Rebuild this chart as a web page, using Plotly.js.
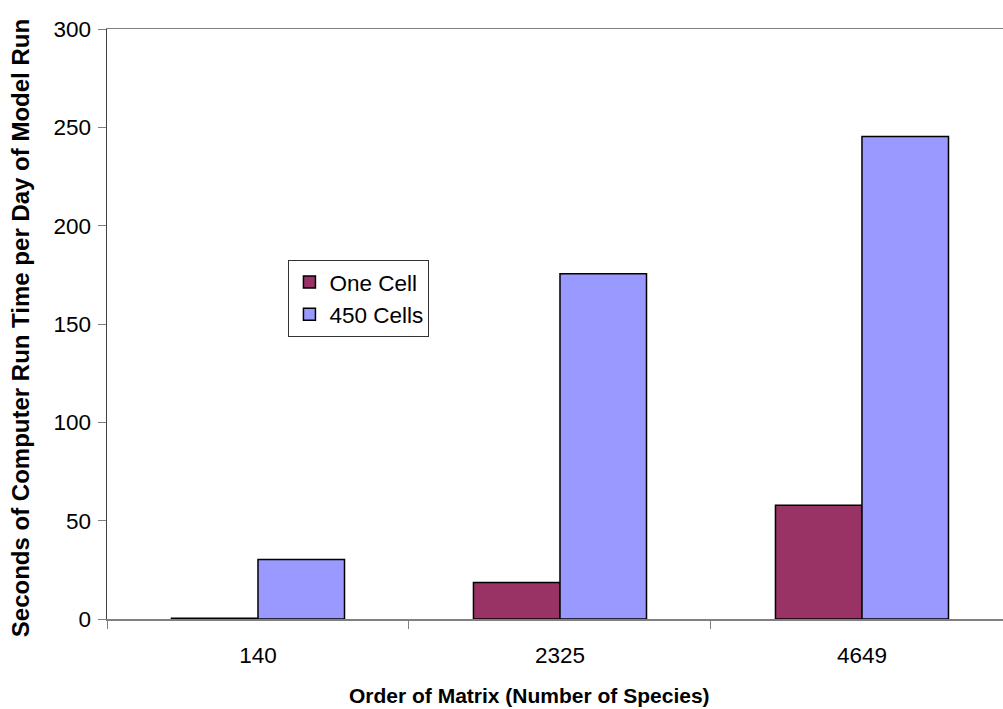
<!DOCTYPE html>
<html>
<head>
<meta charset="utf-8">
<script src="https://cdn.plot.ly/plotly-3.0.1.min.js"></script>
<style>
html,body{margin:0;padding:0;background:#fff;overflow:hidden;}
#chart{width:1003px;height:709px;}
</style>
</head>
<body>
<div id="chart"></div>
<script>
var categories = ["140", "2325", "4649"];
var seriesNames = ["One Cell", "450 Cells"];
var oneCell = [0.4, 18.6, 57.8];
var cells450 = [30.2, 175.6, 245.4];
var yTickVals = [0, 50, 100, 150, 200, 250, 300];
var xTitle = "Order of Matrix (Number of Species)";
var yTitle = "Seconds of Computer Run Time per Day of Model Run";

var font = "Liberation Sans, Arial, sans-serif";

var traces = [
  {type: "bar", name: seriesNames[0], x: categories, y: oneCell,
   marker: {color: "#993366", line: {color: "#000000", width: 1.5}}},
  {type: "bar", name: seriesNames[1], x: categories, y: cells450,
   marker: {color: "#9999FF", line: {color: "#000000", width: 1.5}}}
];

var layout = {
  width: 1003, height: 709,
  margin: {l: 107, r: 0, t: 29, b: 90},
  paper_bgcolor: "#ffffff", plot_bgcolor: "#ffffff",
  barmode: "group", bargap: 0.427, bargroupgap: 0,
  font: {family: font, size: 22, color: "#000000"},
  showlegend: true,
  legend: {x: 0.2025, y: 0.6085, xanchor: "left", yanchor: "top",
    bgcolor: "#ffffff", bordercolor: "#333333", borderwidth: 1, itemwidth: 30,
    font: {family: font, size: 22.5, color: "#000000"}, tracegroupgap: 0},
  xaxis: {type: "category", range: [-0.5, 2.467], tickson: "boundaries",
    ticks: "outside", ticklen: 8, tickcolor: "#808080", tickwidth: 1,
    showline: true, linecolor: "#808080", linewidth: 1.5, mirror: true,
    showgrid: false, zeroline: false, ticklabelstandoff: 15,
    tickfont: {family: font, size: 22.5, color: "#000000"}},
  yaxis: {range: [0, 300], tickvals: yTickVals, ticks: "outside", ticklen: 8,
    tickcolor: "#808080", tickwidth: 1, showline: true, linecolor: "#404040",
    linewidth: 1.5, showgrid: false, zeroline: false, ticklabelstandoff: 2,
    tickfont: {family: font, size: 22.5, color: "#000000"}},
  annotations: [
    {text: "<b>" + xTitle + "</b>", xref: "paper", yref: "paper",
     x: 0.472, y: -0.129, xanchor: "center", yanchor: "middle", showarrow: false,
     font: {family: font, size: 21, color: "#000000"}},
    {text: "<b>" + yTitle + "</b>", xref: "paper", yref: "paper",
     x: -0.097, y: 0.493, xanchor: "center", yanchor: "middle", showarrow: false,
     textangle: -90, font: {family: font, size: 24, color: "#000000"}}
  ]
};

Plotly.newPlot("chart", traces, layout, {displayModeBar: false, staticPlot: true});
</script>
</body>
</html>
